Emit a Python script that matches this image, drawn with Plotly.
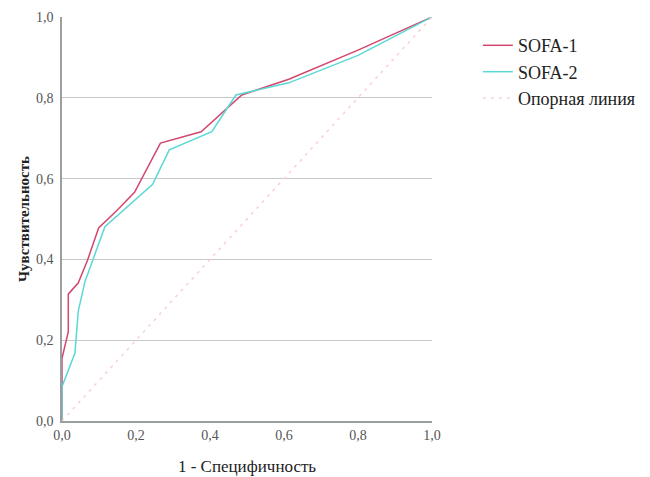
import plotly.graph_objects as go

# SOFA-1 ROC curve points (1 - specificity, sensitivity)
sofa1_x = [0.0, 0.0, 0.017, 0.017, 0.044, 0.069, 0.099, 0.147, 0.196, 0.266, 0.376, 0.486, 0.613, 0.80, 1.0]
sofa1_y = [0.0, 0.155, 0.221, 0.314, 0.342, 0.398, 0.478, 0.520, 0.566, 0.688, 0.716, 0.807, 0.846, 0.918, 1.0]

# SOFA-2 ROC curve points
sofa2_x = [0.0, 0.0, 0.035, 0.044, 0.062, 0.116, 0.245, 0.290, 0.405, 0.470, 0.613, 0.80, 1.0]
sofa2_y = [0.0, 0.085, 0.168, 0.272, 0.345, 0.481, 0.586, 0.671, 0.716, 0.807, 0.837, 0.905, 1.0]

# Reference line
ref_x = [0.0, 1.0]
ref_y = [0.0, 1.0]

names = ["SOFA-1", "SOFA-2", "Опорная линия"]
ticks = [0.0, 0.2, 0.4, 0.6, 0.8, 1.0]

font_family = "'Liberation Serif', 'Times New Roman', serif"

fig = go.Figure()
fig.add_trace(go.Scatter(x=sofa1_x, y=sofa1_y, mode="lines", name=names[0],
                         line=dict(color="#d2476d", width=1.5)))
fig.add_trace(go.Scatter(x=sofa2_x, y=sofa2_y, mode="lines", name=names[1],
                         line=dict(color="#5ad8d6", width=1.5)))
fig.add_trace(go.Scatter(x=ref_x, y=ref_y, mode="lines", name=names[2],
                         line=dict(color="#f7d0d7", width=1.5, dash="3px,5px")))

# page body has an 8px default margin, so the figure is sized/offset accordingly
fig.update_layout(
    width=642, height=469,
    margin=dict(l=54, r=216, t=9, b=56),
    plot_bgcolor="white", paper_bgcolor="white",
    separators=", ",
    font=dict(family=font_family, size=14, color="#444444"),
    showlegend=True,
    legend=dict(x=1.124, y=0.975, xanchor="left", yanchor="top",
                font=dict(family=font_family, size=18, color="#222222"),
                itemwidth=30, tracegroupgap=0, bgcolor="rgba(0,0,0,0)"),
    xaxis=dict(range=[0, 1], tickvals=ticks, tickformat=".1f", automargin=False,
               showgrid=False, zeroline=False,
               showline=True, linecolor="#9aa0a0", linewidth=1.5,
               ticks="", tickfont=dict(size=14, color="#555555"),
               title=dict(text="1 - Специфичность", font=dict(size=17, color="#222222"), standoff=19)),
    yaxis=dict(range=[0, 1], tickvals=ticks, tickformat=".1f", automargin=False,
               showgrid=True, gridcolor="#c8c8c8", gridwidth=1, zeroline=False,
               showline=True, linecolor="#9aa0a0", linewidth=1.5,
               ticks="", ticklabelstandoff=4, tickfont=dict(size=14, color="#555555"),
               title=dict(text="<b>Чувствительность</b>", font=dict(size=15, color="#222222"), standoff=3)),
)

fig.write_html("out.html")
